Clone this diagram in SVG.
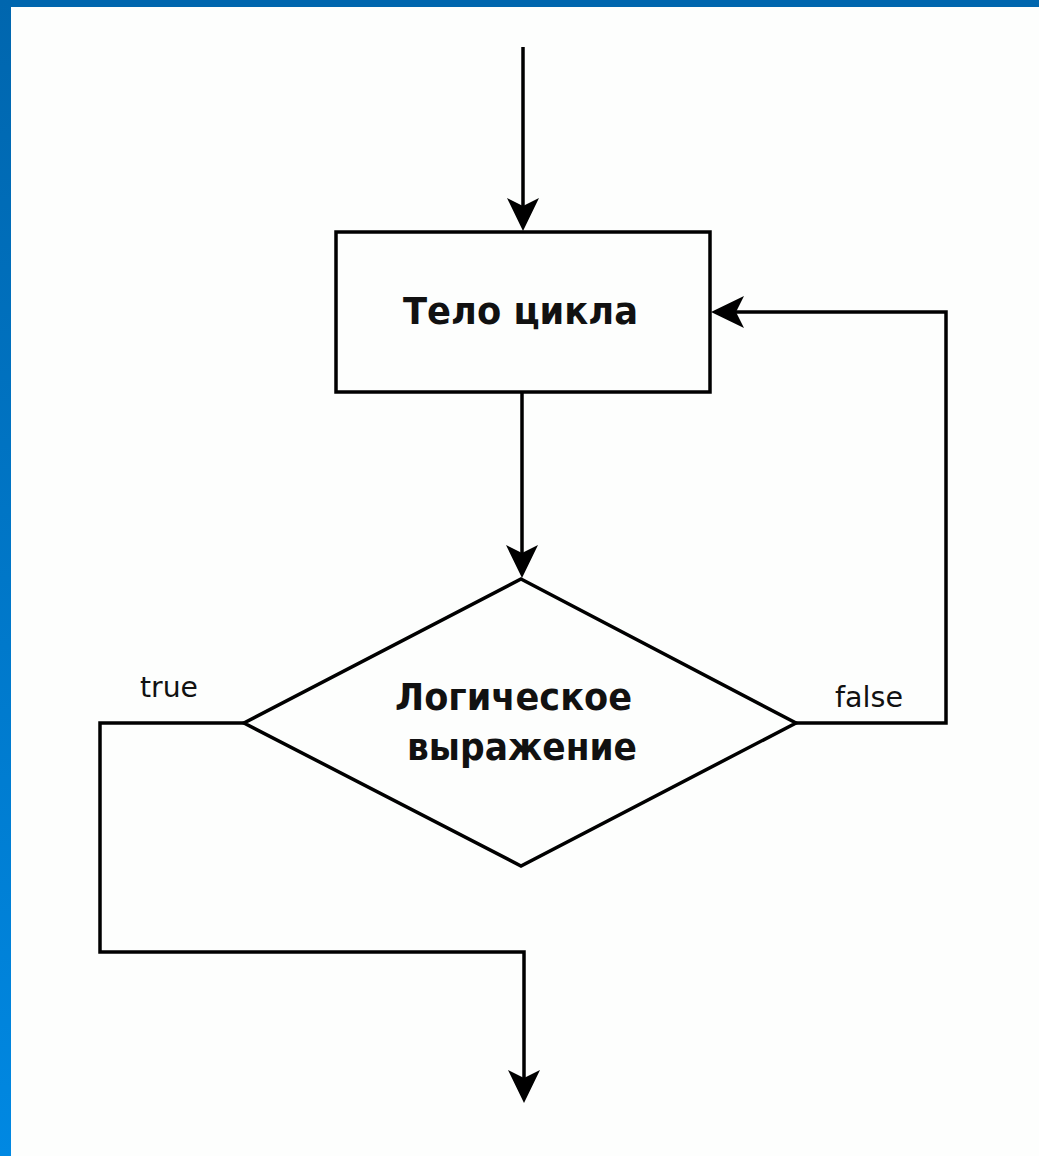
<svg xmlns="http://www.w3.org/2000/svg" width="1039" height="1156" viewBox="0 0 1039 1156">
  <style>
    .ln { fill: none; stroke: #000; stroke-width: 3.5; stroke-linejoin: miter; }
    .shape { fill: none; stroke: #000; stroke-width: 3.5; }
    .big { font-family: "DejaVu Sans", "Liberation Sans", sans-serif; font-weight: bold; font-size: 37px; fill: #111; }
    .lab { font-family: "DejaVu Sans", "Liberation Sans", sans-serif; font-size: 28px; fill: #111; }
  </style>
  <defs>
    <linearGradient id="edge" x1="0" y1="0" x2="0" y2="1">
      <stop offset="0" stop-color="#0066ae"/>
      <stop offset="1" stop-color="#0088e2"/>
    </linearGradient>
    <marker id="arr" markerUnits="userSpaceOnUse" viewBox="-24 -17 35 34" markerWidth="35" markerHeight="34" refX="0" refY="0" orient="auto">
      <path d="M10,0 L-23,-16 L-15,0 L-23,16 Z" fill="#000"/>
    </marker>
  </defs>
  <rect x="0" y="0" width="1039" height="1156" fill="#fdfefd"/>
  <rect x="0" y="0" width="1039" height="7" fill="#0066ae"/>
  <rect x="0" y="0" width="11" height="1156" fill="url(#edge)"/>

  <g id="connectors">
    <path class="ln" d="M523,47 L523,221" marker-end="url(#arr)"/>
    <path class="ln" d="M522,392 L522,568" marker-end="url(#arr)"/>
    <path class="ln" d="M796,723 L946,723 L946,312 L721,312" marker-end="url(#arr)"/>
    <path class="ln" d="M244,723 L100,723 L100,952 L524,952 L524,1093" marker-end="url(#arr)"/>
    <text class="lab" x="140" y="697" textLength="58" lengthAdjust="spacingAndGlyphs">true</text>
    <text class="lab" x="835" y="707" textLength="68" lengthAdjust="spacingAndGlyphs">false</text>
  </g>

  <g id="body">
    <rect class="shape" x="336" y="232" width="374" height="160" fill="#fdfefd"/>
    <text class="big" x="520.5" y="324" text-anchor="middle" textLength="235" lengthAdjust="spacingAndGlyphs">Тело цикла</text>
  </g>

  <g id="condition">
    <polygon class="shape" points="521,579 796,723 521,866 244,723"/>
    <text class="big" x="513.5" y="710" text-anchor="middle" textLength="237" lengthAdjust="spacingAndGlyphs">Логическое</text>
    <text class="big" x="522" y="760" text-anchor="middle" textLength="230" lengthAdjust="spacingAndGlyphs">выражение</text>
  </g>
</svg>
